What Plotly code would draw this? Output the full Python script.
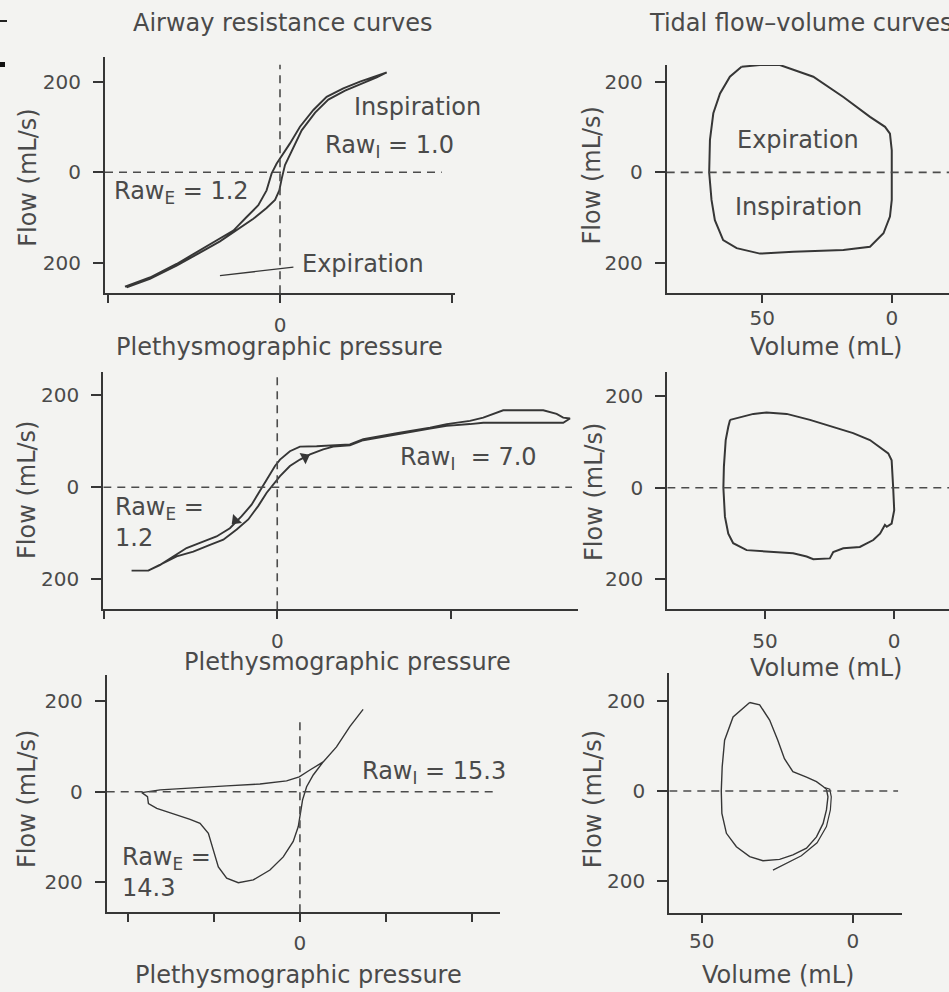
import plotly.graph_objects as go

W, H = 949, 992
FONT = "DejaVu Sans"
TXT = "#4a4a4a"
INK = "#363636"
BG = "#f3f3f1"

# ---------------- data ----------------
# Panel A: airway resistance curve, normal (Raw_I = 1.0, Raw_E = 1.2)
ra_up_x = [-0.901, -0.756, -0.601, -0.465, -0.349, -0.271, -0.194, -0.126, -0.078, -0.049,
           -0.020, 0.019, 0.058, 0.116, 0.194, 0.271, 0.368, 0.465, 0.562, 0.620]
ra_up_y = [-253, -233, -203, -173, -147, -129, -99, -73, -40, -3,
           19, 41, 64, 101, 138, 167, 186, 201, 213, 221]
ra_lo_x = [0.620, 0.562, 0.475, 0.378, 0.281, 0.204, 0.126, 0.068, 0.029, 0.010,
           -0.004, -0.029, -0.078, -0.155, -0.252, -0.349, -0.465, -0.601, -0.756, -0.891]
ra_lo_y = [221, 210, 196, 181, 161, 132, 93, 45, 16, -14,
           -40, -61, -79, -103, -129, -153, -178, -207, -236, -255]
ra_pointer_x = [-0.349, 0.078]
ra_pointer_y = [-229, -210]

# Panel B: tidal flow-volume loop, normal
tb_x = [58.0, 50.9, 43.2, 30.3, 18.7, 8.4, 2.6, 0.7, 0.0, 0.0, 0.0, 0.7, 3.2, 8.4, 18.7,
        38.0, 50.9, 59.9, 65.1, 68.3, 69.6, 70.5, 70.2, 68.9, 66.3, 62.5, 58.0]
tb_y = [234, 238, 238, 212, 167, 123, 101, 86, 49, 0, -61, -98, -135, -165, -172,
        -176, -180, -168, -150, -106, -61, 0, 72, 131, 175, 212, 234]

# Panel C: airway resistance curve (Raw_I = 7.0, Raw_E = 1.2)
rc_up_x = [-0.840, -0.744, -0.677, -0.600, -0.523, -0.446, -0.350, -0.273, -0.205, -0.148,
           -0.100, -0.052, -0.013, 0.016, 0.073, 0.131, 0.227, 0.419, 0.496, 0.689,
           0.881, 0.977, 1.111, 1.188, 1.265, 1.303, 1.534, 1.611, 1.649, 1.688]
rc_up_y = [-181, -181, -169, -150, -132, -121, -107, -89, -63, -38,
           -9, 20, 46, 60, 78, 88, 89, 93, 104, 117,
           129, 137, 144, 151, 162, 167, 167, 159, 151, 149]
rc_lo_x = [1.688, 1.649, 1.188, 1.111, 0.977, 0.881, 0.689, 0.496, 0.419, 0.323,
           0.265, 0.189, 0.131, 0.073, 0.016, -0.023, -0.061, -0.110, -0.167, -0.234,
           -0.311, -0.388, -0.484, -0.580, -0.657, -0.744]
rc_lo_y = [149, 140, 140, 137, 133, 127, 115, 102, 91, 88,
           82, 71, 60, 46, 24, 6, -12, -41, -70, -92,
           -114, -125, -140, -150, -165, -181]
rc_arrow_x = [-0.240, 0.160]
rc_arrow_y = [-72, 65]
rc_arrow_angle = [225, 62]

# Panel D: tidal flow-volume loop
td_x = [63.5, 54.5, 49.4, 41.6, 32.6, 23.6, 15.9, 9.4, 5.5, 2.3, 1.0, 0.6, 0.4, 0.0, 1.0,
        2.9, 3.6, 5.5, 8.1, 13.3, 19.7, 23.6, 24.9, 31.3, 33.9, 39.1, 49.4, 57.1, 62.3,
        64.2, 65.5, 66.1, 65.9, 65.2, 64.2, 63.5]
td_y = [148, 161, 164, 161, 148, 132, 119, 104, 89, 75, 60, 31, 0, -49, -78,
        -85, -81, -100, -114, -129, -132, -140, -154, -156, -150, -143, -139, -136, -121,
        -100, -63, 0, 46, 104, 133, 148]

# Panel E: airway resistance curve (Raw_I = 15.3, Raw_E = 14.3)
re_x = [0.736, 0.581, 0.426, 0.271, 0.116, -0.008, -0.155, -0.465, -0.853, -1.240, -1.628,
        -1.841, -1.775, -1.764, -1.667, -1.473, -1.279, -1.163, -1.066, -1.008, -0.950,
        -0.853, -0.717, -0.543, -0.349, -0.194, -0.078, -0.019, 0.008, 0.031, 0.078,
        0.155, 0.271, 0.426, 0.581, 0.736]
re_y = [182, 144, 99, 66, 48, 33, 24, 17, 13, 9, 4,
        -2, -11, -26, -37, -49, -61, -70, -92, -129, -166,
        -191, -201, -195, -173, -144, -110, -77, -48, -18, 11,
        37, 66, 99, 144, 182]

# Panel F: tidal flow-volume loop
tf_x = [34.1, 39.6, 42.4, 43.2, 43.5, 43.3, 41.8, 38.5, 34.1, 29.7, 24.2, 19.8, 15.3,
        12.0, 9.8, 8.7, 8.2, 8.7, 9.8, 12.0, 15.3, 19.8, 22.6, 24.8, 27.5, 30.8, 34.1]
tf_y = [197, 165, 113, 54, 0, -50, -94, -124, -146, -155, -152, -142, -127,
        -102, -72, -42, -13, 4, 10, 21, 31, 43, 72, 113, 158, 192, 197]
tf_tail_x = [9.3, 7.6, 7.1, 7.4, 8.7, 11.8, 17.0, 22.0, 26.4]
tf_tail_y = [8, 4, -13, -42, -79, -115, -144, -162, -176]

flow_ticks = [-200, 0, 200]
flow_ticktext = ["200", "0", "200"]

# ---------------- layout geometry (pixels) ----------------
# name: (left, right, top, bottom, xrange, yrange, labelled xticks, labels, unlabelled xticks, standoff)
panels = {
    "A": (105.0, 455.0, 56.7, 293.3, [-1.017, 1.017], [-268, 256], [0], ["0"], [-1, 1], 5),
    "B": (666.7, 949.0, 65.0, 293.3, [86.9, -22.1], [-268, 238], [50, 0], ["50", "0"], [], -2),
    "C": (103.3, 578.3, 372.0, 609.3, [-1.003, 1.736], [-265, 250], [0], ["0"], [-1, 1], 5),
    "D": (667.3, 949.0, 371.7, 609.3, [87.8, -21.2], [-265, 253], [50, 0], ["50", "0"], [], 5),
    "E": (106.7, 500.0, 675.0, 912.3, [-2.25, 2.33], [-266.5, 258], [0], ["0"], [-2, -1, 1, 2], 4),
    "F": (669.3, 902.3, 673.3, 913.3, [60.7, -16.4], [-272, 262], [50, 0], ["50", "0"], [], 1),
}
order = ["A", "B", "C", "D", "E", "F"]
axid = {k: ("" if i == 0 else str(i + 1)) for i, k in enumerate(order)}

fig = go.Figure()


def add_line(panel, xs, ys, width=1.8):
    s = axid[panel]
    fig.add_trace(go.Scatter(x=xs, y=ys, mode="lines", xaxis="x" + s, yaxis="y" + s,
                             line=dict(color=INK, width=width), hoverinfo="skip",
                             showlegend=False))


add_line("A", ra_up_x + ra_lo_x, ra_up_y + ra_lo_y, 1.9)
add_line("A", ra_pointer_x, ra_pointer_y, 1.3)
add_line("B", tb_x, tb_y, 2.0)
add_line("C", rc_up_x + rc_lo_x, rc_up_y + rc_lo_y, 1.9)
add_line("D", td_x, td_y, 2.0)
add_line("E", re_x, re_y, 1.4)
add_line("F", tf_x, tf_y, 1.4)
add_line("F", tf_tail_x, tf_tail_y, 1.2)
fig.add_trace(go.Scatter(x=rc_arrow_x, y=rc_arrow_y, mode="markers", xaxis="x3", yaxis="y3",
                         marker=dict(symbol="triangle-up", size=11, color=INK,
                                     angle=rc_arrow_angle),
                         hoverinfo="skip", showlegend=False))

layout = dict(width=W, height=H, margin=dict(l=0, r=0, t=0, b=0),
              paper_bgcolor=BG, plot_bgcolor="rgba(0,0,0,0)", showlegend=False)

shapes = []
dash_style = dict(color="#4c4c4c", width=1.6, dash="8px,6px")
# extent of the dashed reference lines, per panel: (horizontal end x, vertical top y or None)
dash_ext = {"A": (0.94, 238), "B": (-22.1, None), "C": (1.70, 239), "D": (-21.2, None),
            "E": (2.29, 163), "F": (-15.0, None)}

for k in order:
    left, right, top, bottom, xr, yr, tv, tt, mv, so = panels[k]
    s = axid[k]
    base = dict(showline=True, linecolor=INK, linewidth=2, ticks="outside", tickwidth=2,
                tickcolor=INK, showgrid=False, zeroline=False,
                tickfont=dict(family=FONT, size=20, color=TXT))
    xa = dict(base, domain=[left / W, right / W], range=xr,
              anchor="y" + s, tickmode="array", tickvals=tv, ticktext=tt,
              ticklen=8, ticklabelstandoff=so)
    if mv:
        xa["minor"] = dict(tickmode="array", tickvals=mv, ticks="outside", ticklen=8,
                           tickwidth=2, tickcolor=INK, showgrid=False)
    layout["xaxis" + s] = xa
    layout["yaxis" + s] = dict(base, domain=[1 - bottom / H, 1 - top / H], range=yr,
                               anchor="x" + s, tickmode="array", tickvals=flow_ticks,
                               ticktext=flow_ticktext, ticklen=10, ticklabelstandoff=8)
    hx, vy = dash_ext[k]
    shapes.append(dict(type="line", xref="x" + s, yref="y" + s, x0=xr[0], x1=hx, y0=0, y1=0,
                       line=dash_style))
    if vy is not None:
        shapes.append(dict(type="line", xref="x" + s, yref="y" + s, x0=0, x1=0, y0=yr[0], y1=vy,
                           line=dash_style))

# small scan marks at the top-left edge of the page
shapes.append(dict(type="line", xref="paper", yref="paper", x0=0, x1=7 / W,
                   y0=1 - 21 / H, y1=1 - 21 / H, line=dict(color="#222", width=2)))
shapes.append(dict(type="rect", xref="paper", yref="paper", x0=0, x1=5 / W,
                   y0=1 - 67 / H, y1=1 - 62 / H, line=dict(width=0), fillcolor="#111"))
layout["shapes"] = shapes

ann = []


def paper_text(text, x, y, xanchor="center", angle=0, size=24):
    ann.append(dict(text=text, xref="paper", yref="paper", x=x / W, y=1 - y / H,
                    xanchor=xanchor, yanchor="middle", showarrow=False, textangle=angle,
                    font=dict(family=FONT, size=size, color=TXT)))


def data_text(panel, text, x, y, align="left"):
    s = axid[panel]
    ann.append(dict(text=text, xref="x" + s, yref="y" + s, x=x, y=y, xanchor="left",
                    yanchor="middle", showarrow=False, align=align,
                    font=dict(family=FONT, size=24, color=TXT)))


paper_text("Airway resistance curves", 283, 23)
paper_text("Tidal flow\u2013volume curves", 647, 23, xanchor="left")
paper_text("Plethysmographic pressure", 279, 347)
paper_text("Volume (mL)", 826, 347)
paper_text("Plethysmographic pressure", 347.5, 662)
paper_text("Volume (mL)", 826, 668)
paper_text("Plethysmographic pressure", 298, 975)
paper_text("Volume (mL)", 777.5, 975)
for (xp, yp) in [(27.3, 177.5), (591.7, 175.8), (27, 490), (593.3, 491.7), (27, 799), (593.3, 799)]:
    paper_text("Flow (mL/s)", xp, yp, angle=-90)

data_text("A", "Inspiration", 0.417, 145)
data_text("A", "Raw<sub>I</sub> = 1.0", 0.25, 57)
data_text("A", "Raw<sub>E</sub> = 1.2", -0.977, -45)
data_text("A", "Expiration", 0.116, -202)
data_text("B", "Expiration", 60.5, 71)
data_text("B", "Inspiration", 61.3, -77)
data_text("C", "Raw<sub>I</sub>  = 7.0", 0.696, 62)
data_text("C", "Raw<sub>E</sub> =<br>1.2", -0.948, -77)
data_text("E", "Raw<sub>E</sub> =<br>14.3", -2.093, -179)
data_text("E", "Raw<sub>I</sub> = 15.3", 0.698, 42)
layout["annotations"] = ann

fig.update_layout(**layout)
fig.write_html(
    "out.html",
    config={"displayModeBar": False, "staticPlot": True},
    post_script="document.body.style.margin='0px';document.body.style.padding='0px';"
                "document.body.style.overflow='hidden';document.body.style.background='" + BG + "';",
)
